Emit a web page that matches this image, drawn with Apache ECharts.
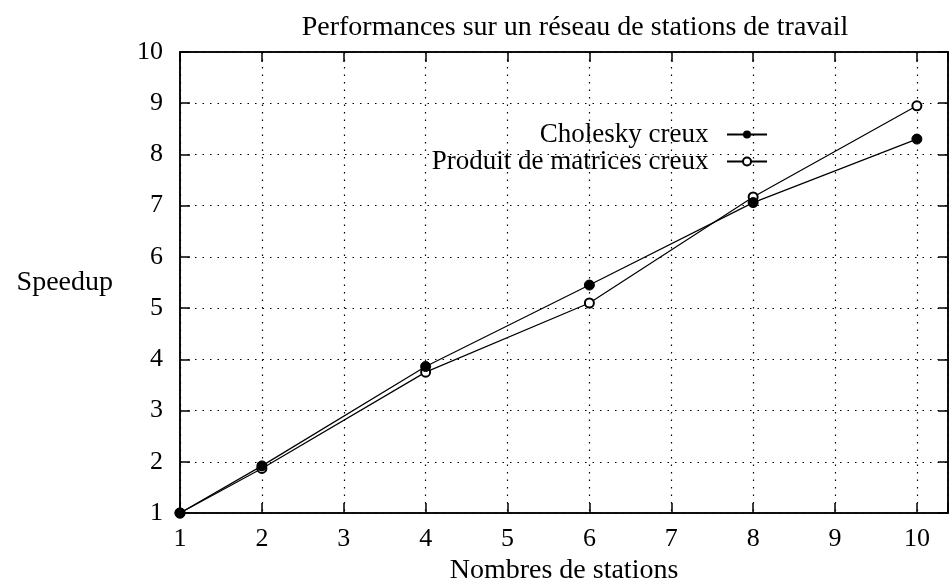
<!DOCTYPE html>
<html>
<head>
<meta charset="utf-8">
<script src="https://cdn.jsdelivr.net/npm/echarts@6/dist/echarts.min.js"></script>
<style>
  html, body { margin: 0; padding: 0; background: #fff; }
  #chart { width: 949px; height: 582px; }
</style>
</head>
<body>
<div id="chart"></div>
<script>
// Speedup measured on a network of workstations
const stations = [1, 2, 4, 6, 8, 10];
const choleskySpeedup = [1, 1.92, 3.86, 5.45, 7.06, 8.30];
const produitSpeedup = [1, 1.87, 3.75, 5.10, 7.17, 8.95];
const xTicks = [1, 2, 3, 4, 5, 6, 7, 8, 9, 10];
const yTicks = [1, 2, 3, 4, 5, 6, 7, 8, 9, 10];

const FONT = 'Liberation Serif';
const xMax = 10.38;

const pairs = (xs, ys) => xs.map((x, i) => [x, ys[i]]);
const intLabel = (ticks) => (v) => (ticks.includes(v) ? String(v) : '');

const chart = echarts.init(document.getElementById('chart'), null, { renderer: 'canvas' });

const gridLine = { show: true, lineStyle: { color: '#000', type: [1.5, 6], width: 1.2 } };
const tickIn = { show: true, inside: true, length: 10, lineStyle: { color: '#000', width: 1.5 } };

chart.setOption({
  animation: false,
  backgroundColor: '#fff',
  textStyle: { fontFamily: FONT, color: '#000' },
  title: {
    text: 'Performances sur un réseau de stations de travail',
    left: 570, top: 9, textAlign: 'center',
    textStyle: { fontFamily: FONT, fontWeight: 'normal', fontSize: 28, color: '#000' }
  },
  legend: {
    orient: 'vertical',
    right: 176, top: 116,
    align: 'right',
    itemWidth: 40, itemHeight: 10, itemGap: 0,
    formatter: (name) => name + '  ',
    textStyle: { fontFamily: FONT, fontSize: 27, color: '#000' },
    data: ['Cholesky creux', 'Produit de matrices creux']
  },
  grid: {
    left: 180, right: 1, top: 52, bottom: 69,
    outerBoundsMode: 'none', containLabel: false,
    show: true, borderColor: '#000', borderWidth: 1.5
  },
  xAxis: [{
    type: 'value', min: 1, max: xMax, interval: 1, position: 'bottom',
    name: 'Nombres de stations', nameLocation: 'middle', nameGap: 42,
    nameTextStyle: { fontFamily: FONT, fontSize: 28, color: '#000' },
    axisLine: { show: true, lineStyle: { color: '#000', width: 1.5 } },
    axisTick: tickIn,
    axisLabel: { fontFamily: FONT, fontSize: 26, color: '#000', margin: 13, formatter: intLabel(xTicks) },
    splitLine: gridLine
  }, {
    type: 'value', min: 1, max: xMax, interval: 1, position: 'top',
    axisLine: { show: true, lineStyle: { color: '#000', width: 1.5 } },
    axisTick: tickIn, axisLabel: { show: false }, splitLine: { show: false }
  }],
  yAxis: [{
    type: 'value', min: 1, max: 10, interval: 1, position: 'left',
    name: 'Speedup', nameLocation: 'middle', nameRotate: 0, nameGap: 67,
    nameTextStyle: { fontFamily: FONT, fontSize: 28, color: '#000' },
    axisLine: { show: true, lineStyle: { color: '#000', width: 1.5 } },
    axisTick: tickIn,
    axisLabel: { fontFamily: FONT, fontSize: 26, color: '#000', margin: 17, formatter: intLabel(yTicks) },
    splitLine: gridLine
  }, {
    type: 'value', min: 1, max: 10, interval: 1, position: 'right',
    axisLine: { show: true, lineStyle: { color: '#000', width: 1.5 } },
    axisTick: tickIn, axisLabel: { show: false }, splitLine: { show: false }
  }],
  series: [{
    name: 'Cholesky creux', type: 'line', z: 4,
    data: pairs(stations, choleskySpeedup),
    symbol: 'circle', symbolSize: 10,
    itemStyle: { color: '#000', borderColor: '#000' },
    lineStyle: { color: '#000', width: 1.2 }
  }, {
    name: 'Produit de matrices creux', type: 'line', z: 3,
    data: pairs(stations, produitSpeedup),
    symbol: 'emptyCircle', symbolSize: 9,
    itemStyle: { color: '#000', borderColor: '#000', borderWidth: 1.2 },
    lineStyle: { color: '#000', width: 1.2 }
  }]
});
</script>
</body>
</html>
